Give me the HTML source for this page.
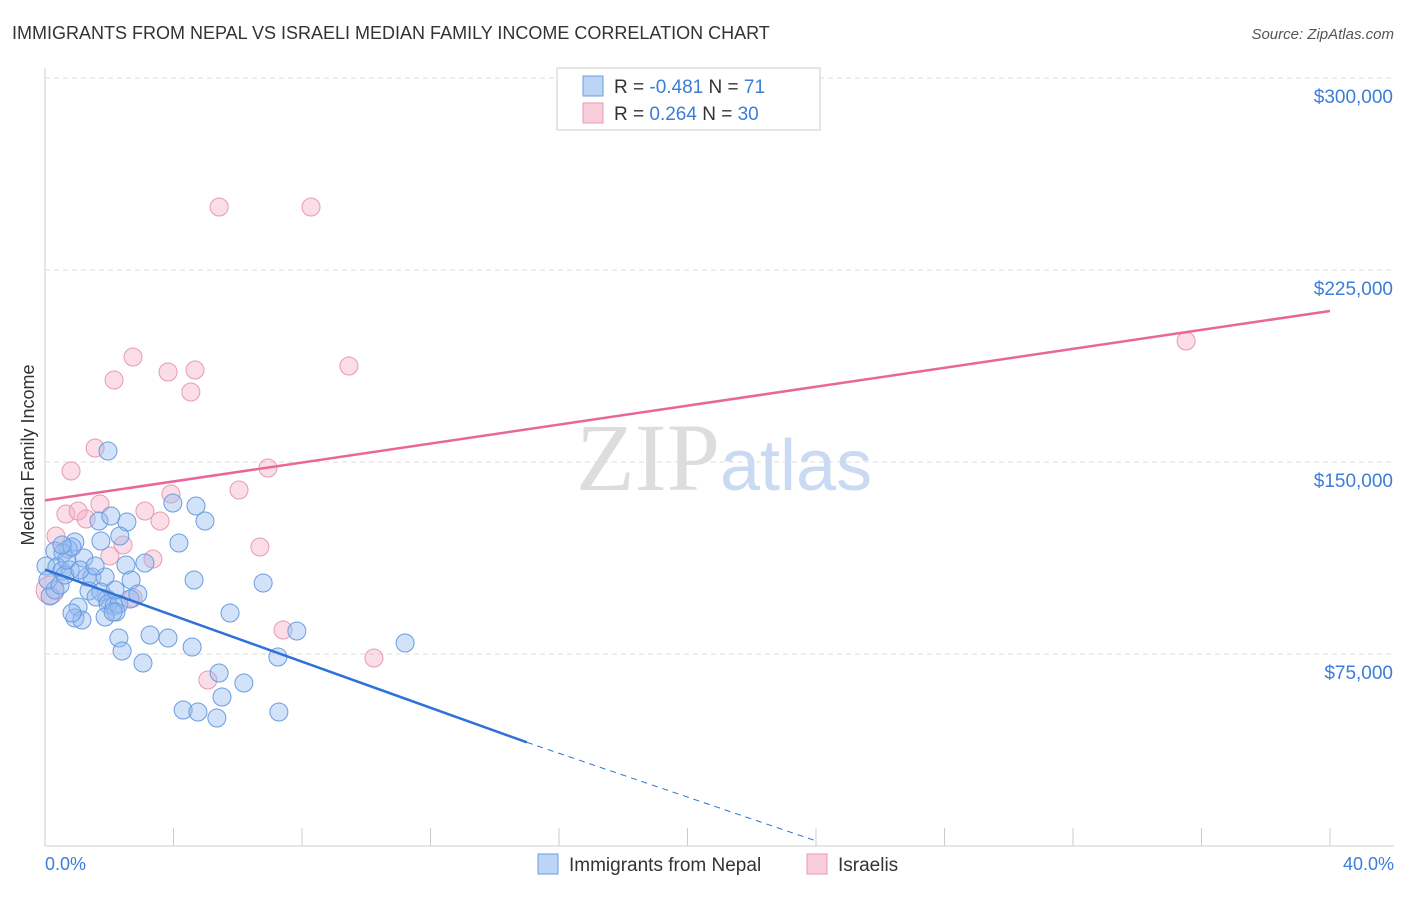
<!DOCTYPE html>
<html><head><meta charset="utf-8"><style>
body{margin:0;background:#fff;font-family:"Liberation Sans",sans-serif}
</style></head><body>
<svg width="1406" height="892" xmlns="http://www.w3.org/2000/svg">
<text x="12" y="39" font-size="18" fill="#333">IMMIGRANTS FROM NEPAL VS ISRAELI MEDIAN FAMILY INCOME CORRELATION CHART</text>
<text x="1394" y="39" font-size="15" fill="#555" font-style="italic" text-anchor="end">Source: ZipAtlas.com</text>
<g id="grid"></g>
<line x1="45" y1="68" x2="45" y2="846" stroke="#ccc"/>
<line x1="45" y1="846" x2="1394" y2="846" stroke="#ccc"/>
<text x="720" y="490" font-size="96" fill="#ddd" text-anchor="end" font-family="Liberation Serif,serif">ZIP</text>
<text x="720" y="490" font-size="72" fill="#c9daf2">atlas</text>
<text transform="translate(34,455) rotate(-90)" font-size="18" fill="#333" text-anchor="middle">Median Family Income</text>
<text x="45" y="870" font-size="18" fill="#3b7dd8">0.0%</text>
<text x="1394" y="870" font-size="18" fill="#3b7dd8" text-anchor="end">40.0%</text>
<g id="pts"></g>
<g id="lines"></g>
<g>
<rect x="557" y="68" width="263" height="62" fill="#fff" stroke="#ccc"/>
<rect x="583" y="76" width="20" height="20" fill="#bcd4f5" stroke="#6a9de0"/>
<rect x="583" y="103" width="20" height="20" fill="#f9cedb" stroke="#e89ab2"/>
<text x="614" y="93" font-size="19" fill="#333">R = <tspan fill="#3b7dd8">-0.481</tspan>   N =  <tspan fill="#3b7dd8">71</tspan></text>
<text x="614" y="120" font-size="19" fill="#333">R =  <tspan fill="#3b7dd8">0.264</tspan>   N = <tspan fill="#3b7dd8">30</tspan></text>
</g>
<g>
<rect x="538" y="854" width="20" height="20" fill="#bcd4f5" stroke="#6a9de0"/>
<text x="569" y="871" font-size="19" fill="#333">Immigrants from Nepal</text>
<rect x="807" y="854" width="20" height="20" fill="#f9cedb" stroke="#e89ab2"/>
<text x="838" y="871" font-size="19" fill="#333">Israelis</text>
</g>
</svg>
<script>
const yTicks=[75000,150000,225000,300000];
const yTickLabels=["$75,000","$150,000","$225,000","$300,000"];
const xTicks=[0,4,8,12,16,20,24,28,32,36,40];
const bluePx=[[108,451],[173,503],[196,506],[205,521],[127,522],[99,521],[111,516],[120,536],[101,541],[75,542],[68,549],[55,551],[63,553],[84,558],[179,543],[46,566],[57,567],[62,571],[70,570],[87,577],[92,577],[105,577],[126,565],[131,580],[194,580],[263,583],[145,563],[78,607],[89,591],[101,592],[107,599],[96,597],[108,604],[114,606],[119,604],[130,599],[138,594],[116,612],[105,617],[75,618],[82,620],[113,612],[72,613],[230,613],[297,631],[405,643],[119,638],[150,635],[168,638],[122,651],[192,647],[143,663],[278,657],[219,673],[244,683],[222,697],[183,710],[198,712],[217,718],[279,712],[50,596],[55,590],[48,580],[60,585],[65,575],[67,560],[72,547],[80,570],[95,566],[115,590],[62,545]];
const pinkPx=[[219,207],[311,207],[1186,341],[133,357],[114,380],[168,372],[195,370],[191,392],[349,366],[95,448],[71,471],[268,468],[100,504],[239,490],[171,494],[66,514],[78,511],[86,519],[145,511],[160,521],[56,536],[123,545],[153,559],[110,556],[260,547],[133,598],[283,630],[374,658],[208,680],[50,590]];
// convert read pixel positions to data units (percent, dollars)
const blueX=bluePx.map(p=>+((p[0]-45)/1285*40).toFixed(2));
const blueY=bluePx.map(p=>Math.round((846-p[1])/192*75000));
const pinkX=pinkPx.map(p=>+((p[0]-45)/1285*40).toFixed(2));
const pinkY=pinkPx.map(p=>Math.round((846-p[1])/192*75000));
const blueTrend=[[0,108000],[15,40500],[24,2000]];
const pinkTrend=[[0,135000],[40,209000]];
const sx=v=>45+v/40*1285, sy=v=>846-v/75000*192;
const NS="http://www.w3.org/2000/svg";
const grid=document.getElementById('grid'),pts=document.getElementById('pts'),lines=document.getElementById('lines');
function mk(t,a,p){const e=document.createElementNS(NS,t);for(const k in a)e.setAttribute(k,a[k]);p.appendChild(e);return e;}
yTicks.forEach((v,i)=>{
 const l=mk('line',{x1:45,x2:1394,y1:sy(v),y2:sy(v),stroke:'#ddd','stroke-dasharray':'5,4'},grid);
 
 
 const t=mk('text',{x:1393,y:sy(v)+25,'font-size':19,fill:'#3b7dd8','text-anchor':'end'},grid);
 t.textContent=yTickLabels[i];
 
 
});
mk('line',{x1:45,x2:1394,y1:78,y2:78,stroke:'#ddd','stroke-dasharray':'5,4'},grid);
xTicks.forEach(v=>{
 const l=mk('line',{x1:sx(v),x2:sx(v),y1:828,y2:846,stroke:'#ccc'},grid);
 
 
});
pinkX.forEach((x,i)=>{
 const c=mk('circle',{cx:sx(x),cy:sy(pinkY[i]),r:i==pinkX.length-1?14:9,fill:'rgba(244,170,195,0.4)',stroke:'#e89ab2','stroke-width':1},pts);
 
 
});
blueX.forEach((x,i)=>{
 const c=mk('circle',{cx:sx(x),cy:sy(blueY[i]),r:9,fill:'rgba(147,187,240,0.42)',stroke:'#6a9de0','stroke-width':1},pts);
 
 
});
let b=mk('line',{x1:sx(blueTrend[0][0]),y1:sy(blueTrend[0][1]),x2:sx(blueTrend[1][0]),y2:sy(blueTrend[1][1]),stroke:'#2d72d9','stroke-width':2.5},lines);


b=mk('line',{x1:sx(blueTrend[1][0]),y1:sy(blueTrend[1][1]),x2:sx(blueTrend[2][0]),y2:sy(blueTrend[2][1]),stroke:'#2d72d9','stroke-width':1,'stroke-dasharray':'6,5'},lines);


b=mk('line',{x1:sx(pinkTrend[0][0]),y1:sy(pinkTrend[0][1]),x2:sx(pinkTrend[1][0]),y2:sy(pinkTrend[1][1]),stroke:'#e8669a','stroke-width':2.5},lines);


</script>
</body></html>
